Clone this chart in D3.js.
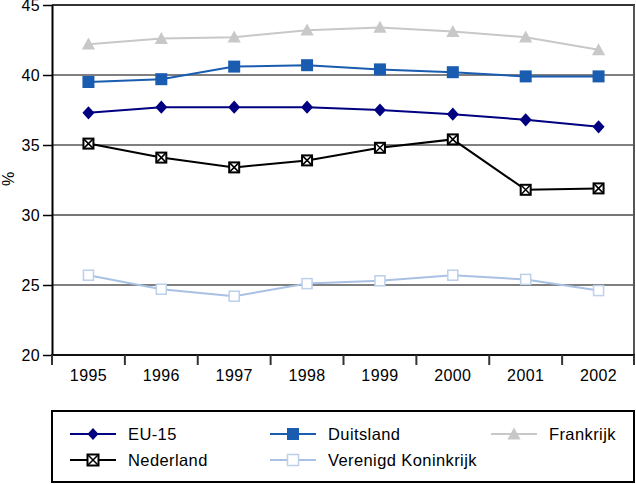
<!DOCTYPE html>
<html><head><meta charset="utf-8">
<script src="https://cdn.jsdelivr.net/npm/d3@7/dist/d3.min.js"></script>
<style>body{margin:0;background:#fff}svg{display:block}text{font-family:"Liberation Sans",Arial,sans-serif}</style>
</head><body><svg id="c" width="636" height="484"></svg>
<script>
const years = ["1995","1996","1997","1998","1999","2000","2001","2002"];
const yTicks = [20,25,30,35,40,45];
const eu15 = [37.3,37.7,37.7,37.7,37.5,37.2,36.8,36.3];
const duitsland = [39.5,39.7,40.6,40.7,40.4,40.2,39.9,39.9];
const frankrijk = [42.2,42.6,42.7,43.2,43.4,43.1,42.7,41.8];
const nederland = [35.1,34.1,33.4,33.9,34.8,35.4,31.8,31.9];
const vk = [25.7,24.7,24.2,25.1,25.3,25.7,25.4,24.6];

const series = [
  {name:"EU-15", values:eu15, color:"#000080", marker:"diamond"},
  {name:"Duitsland", values:duitsland, color:"#1a5cb0", marker:"square"},
  {name:"Frankrijk", values:frankrijk, color:"#c8c8c8", marker:"triangle"},
  {name:"Nederland", values:nederland, color:"#000000", marker:"xsquare"},
  {name:"Verenigd Koninkrijk", values:vk, color:"#a9c1e3", marker:"hollow"}
];

const svg = d3.select("#c");
const L=52, R=635, T=5, B=355;
const x = d3.scaleBand().domain(years).range([L,R]);
const y = d3.scaleLinear().domain([20,45]).range([B,T]);

// gridlines
const gridStyle = {40:["#000",1],35:["#000",1],30:["#777",2],25:["#555",1.5]};
yTicks.filter(t=>gridStyle[t]).forEach(t=>{
  svg.append("line").attr("x1",L).attr("x2",634).attr("y1",y(t)).attr("y2",y(t))
    .attr("stroke",gridStyle[t][0]).attr("stroke-width",gridStyle[t][1]);
});
// borders
svg.append("line").attr("x1",L).attr("x2",635).attr("y1",y(45)).attr("y2",y(45)).attr("stroke","#333").attr("stroke-width",2);
svg.append("line").attr("x1",634).attr("x2",634).attr("y1",y(45)).attr("y2",B).attr("stroke","#555").attr("stroke-width",2);

// y axis
const ya = svg.append("g").attr("transform",`translate(${L},0)`)
  .call(d3.axisLeft(y).tickValues(yTicks).tickSize(9).tickSizeOuter(0).tickPadding(3));
ya.select(".domain").attr("stroke","#000").attr("stroke-width",2);
ya.selectAll(".tick line").attr("stroke","#000").attr("stroke-width",1.5);
ya.selectAll("text").attr("font-size",16).attr("letter-spacing","0.3px").attr("fill","#000");

// x axis
const xa = svg.append("g").attr("transform",`translate(0,${B})`)
  .call(d3.axisBottom(x).tickSize(0).tickPadding(15));
xa.select(".domain").remove();
svg.append("line").attr("x1",L-1).attr("x2",635).attr("y1",B).attr("y2",B).attr("stroke","#111").attr("stroke-width",2);
xa.selectAll("text").attr("font-size",16).attr("letter-spacing","0.4px").attr("fill","#000");
const bounds = years.map(d=>x(d)).concat([x(years[years.length-1])+x.bandwidth()]);
bounds.forEach(b=>{
  svg.append("line").attr("x1",Math.min(b,634)).attr("x2",Math.min(b,634)).attr("y1",B).attr("y2",B+10)
    .attr("stroke","#333").attr("stroke-width",2);
});

svg.append("text").attr("transform",`translate(14,179) rotate(-90)`).attr("text-anchor","middle")
  .attr("font-size",16).text("%");

function drawMarker(g, type, color, cx, cy, s){
  if(type==="diamond"){
    g.append("path").attr("d",`M${cx},${cy-s*0.55}L${cx+s*0.5},${cy}L${cx},${cy+s*0.55}L${cx-s*0.5},${cy}Z`).attr("fill",color);
  } else if(type==="square"){
    g.append("rect").attr("x",cx-s/2).attr("y",cy-s/2).attr("width",s).attr("height",s).attr("fill",color);
  } else if(type==="triangle"){
    g.append("path").attr("d",`M${cx},${cy-s*0.55}L${cx+s*0.55},${cy+s*0.45}L${cx-s*0.55},${cy+s*0.45}Z`).attr("fill",color);
  } else if(type==="xsquare"){
    const h=s/2-1;
    g.append("rect").attr("x",cx-h).attr("y",cy-h).attr("width",2*h).attr("height",2*h).attr("fill","#fff").attr("stroke",color).attr("stroke-width",2);
    g.append("path").attr("d",`M${cx-h},${cy-h}L${cx+h},${cy+h}M${cx+h},${cy-h}L${cx-h},${cy+h}`).attr("stroke",color).attr("stroke-width",1.5);
  } else if(type==="hollow"){
    const h=s/2-1;
    g.append("rect").attr("x",cx-h).attr("y",cy-h).attr("width",2*h).attr("height",2*h).attr("fill","#fff").attr("stroke","#bcd0ec").attr("stroke-width",1.5);
  }
}

const line = d3.line().x((d,i)=>x(years[i])+x.bandwidth()/2).y(d=>y(d));
const order = [4,3,0,1,2];
order.forEach(k=>{
  const s = series[k];
  const g = svg.append("g");
  g.append("path").datum(s.values).attr("d",line).attr("fill","none").attr("stroke",s.color).attr("stroke-width",2);
  s.values.forEach((v,i)=>drawMarker(g,s.marker,s.color,x(years[i])+x.bandwidth()/2,y(v),12));
});

// legend
svg.append("rect").attr("x",52).attr("y",411).attr("width",582).attr("height",71).attr("fill","none").attr("stroke","#000").attr("stroke-width",2);
const legPos = [
  {k:0,x:70,y:434},{k:1,x:270,y:434},{k:2,x:491,y:434},
  {k:3,x:70,y:460},{k:4,x:270,y:460}
];
legPos.forEach(p=>{
  const s=series[p.k];
  const g=svg.append("g");
  g.append("line").attr("x1",p.x).attr("x2",p.x+46).attr("y1",p.y).attr("y2",p.y).attr("stroke",s.color).attr("stroke-width",2);
  drawMarker(g,s.marker,s.color,p.x+23,p.y,p.k===0?11:(p.k===3||p.k===4?13:12));
  g.append("text").attr("x",p.x+58).attr("y",p.y).attr("dy","0.35em").attr("font-size",16.5).attr("letter-spacing","0.4px").text(s.name);
});
</script></body></html>
